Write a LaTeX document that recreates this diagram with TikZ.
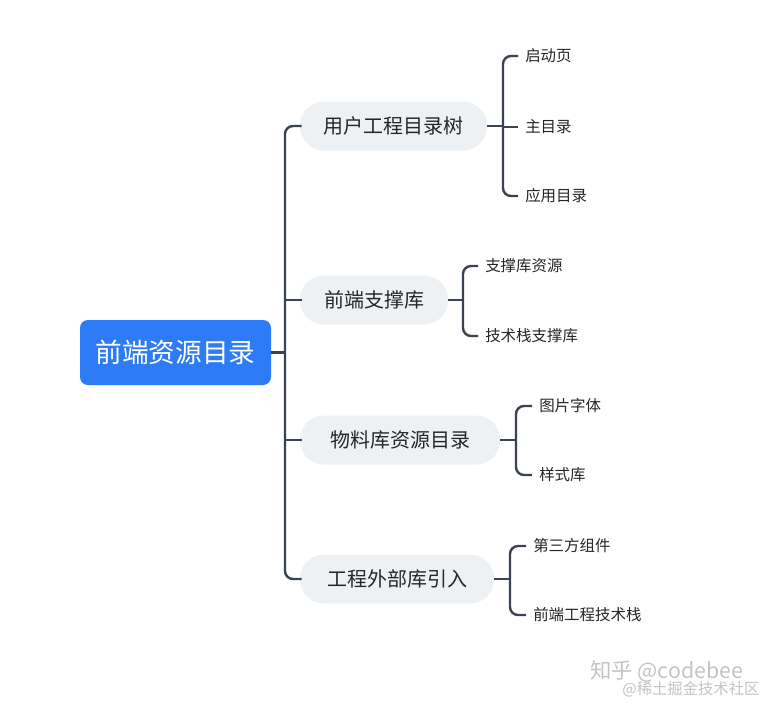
\documentclass[tikz,border=0pt]{standalone}
\usepackage{fontspec}
\setmainfont{Noto Sans CJK SC}
\usetikzlibrary{calc}
\definecolor{rootblue}{HTML}{2D7CF6}
\definecolor{pillgray}{HTML}{EEF1F4}
\definecolor{linegray}{HTML}{3C4350}
\definecolor{wmgray}{HTML}{C4C4C4}
\tikzset{
  rootbox/.style={fill=rootblue, rounded corners=6pt, text=white, font=\fontsize{20}{24}\selectfont, minimum height=48.75pt, inner sep=0pt},
  branchbox/.style={fill=pillgray, rounded corners=18pt, text=black!85, font=\fontsize{15}{18}\selectfont, minimum height=36.75pt, inner sep=0pt},
  leaftext/.style={anchor=west, inner sep=0pt, text=black!85, font=\fontsize{11.6}{14}\selectfont},
  conn/.style={draw=linegray, line width=1.8pt, rounded corners=6pt},
  wm/.style={text=wmgray, inner sep=0pt}
}
\begin{document}
\begin{tikzpicture}[x=0.75pt,y=-0.75pt]
\fill[white] (0,0) rectangle (774,704);
\useasboundingbox (0,0) rectangle (774,704);
% root
\node[rootbox, minimum width=143.25pt] (root) at (175.5,352.5) {前端资源目录};
% branches
\node[branchbox, minimum width=140.25pt] (b1) at (393.5,126) {用户工程目录树};
\node[branchbox, minimum width=111pt] (b2) at (374,300) {前端支撑库};
\node[branchbox, minimum width=150pt] (b3) at (400,440) {物料库资源目录};
\node[branchbox, minimum width=145.5pt] (b4) at (397,579) {工程外部库引入};
% leaves
\node[leaftext] (l11) at (525,56) {启动页};
\node[leaftext] (l12) at (525,127) {主目录};
\node[leaftext] (l13) at (525,196) {应用目录};
\node[leaftext] (l21) at (485,266) {支撑库资源};
\node[leaftext] (l22) at (485,336) {技术栈支撑库};
\node[leaftext] (l31) at (539,406) {图片字体};
\node[leaftext] (l32) at (539,475) {样式库};
\node[leaftext] (l41) at (533,546) {第三方组件};
\node[leaftext] (l42) at (533,615) {前端工程技术栈};
% trunk
\coordinate (tx) at (285,0);
\draw[conn] (root.east) -- (root.east -| tx);
\draw[conn] ($(b1.west)+(2,0)$) -- (b1.west -| tx) -- (b4.west -| tx) -- ($(b4.west)+(2,0)$);
\draw[conn] (b2.west -| tx) -- ($(b2.west)+(2,0)$);
\draw[conn] (b3.west -| tx) -- ($(b3.west)+(2,0)$);
% bracket 1
\coordinate (k1) at (503,0);
\draw[conn] (b1.east) -- (b1.east -| k1);
\draw[conn] ($(l11.west)+(-7,0)$) -- (l11.west -| k1) -- (l13.west -| k1) -- ($(l13.west)+(-7,0)$);
\draw[conn] (l12.west -| k1) -- ($(l12.west)+(-7,0)$);
% bracket 2
\coordinate (k2) at (463,0);
\draw[conn] (b2.east) -- (b2.east -| k2);
\draw[conn] ($(l21.west)+(-7,0)$) -- (l21.west -| k2) -- (l22.west -| k2) -- ($(l22.west)+(-7,0)$);
% bracket 3
\coordinate (k3) at (516,0);
\draw[conn] (b3.east) -- (b3.east -| k3);
\draw[conn] ($(l31.west)+(-7,0)$) -- (l31.west -| k3) -- (l32.west -| k3) -- ($(l32.west)+(-7,0)$);
% bracket 4
\coordinate (k4) at (510,0);
\draw[conn] (b4.east) -- (b4.east -| k4);
\draw[conn] ($(l41.west)+(-7,0)$) -- (l41.west -| k4) -- (l42.west -| k4) -- ($(l42.west)+(-7,0)$);
% watermark
\node[wm, anchor=west, font=\fontsize{16}{18}\selectfont] (wm1) at (590,671) {知乎 @codebee};
\node[wm, anchor=west, font=\fontsize{11.5}{13}\selectfont] (wm2) at (622,689) {@稀土掘金技术社区};
\end{tikzpicture}
\end{document}
